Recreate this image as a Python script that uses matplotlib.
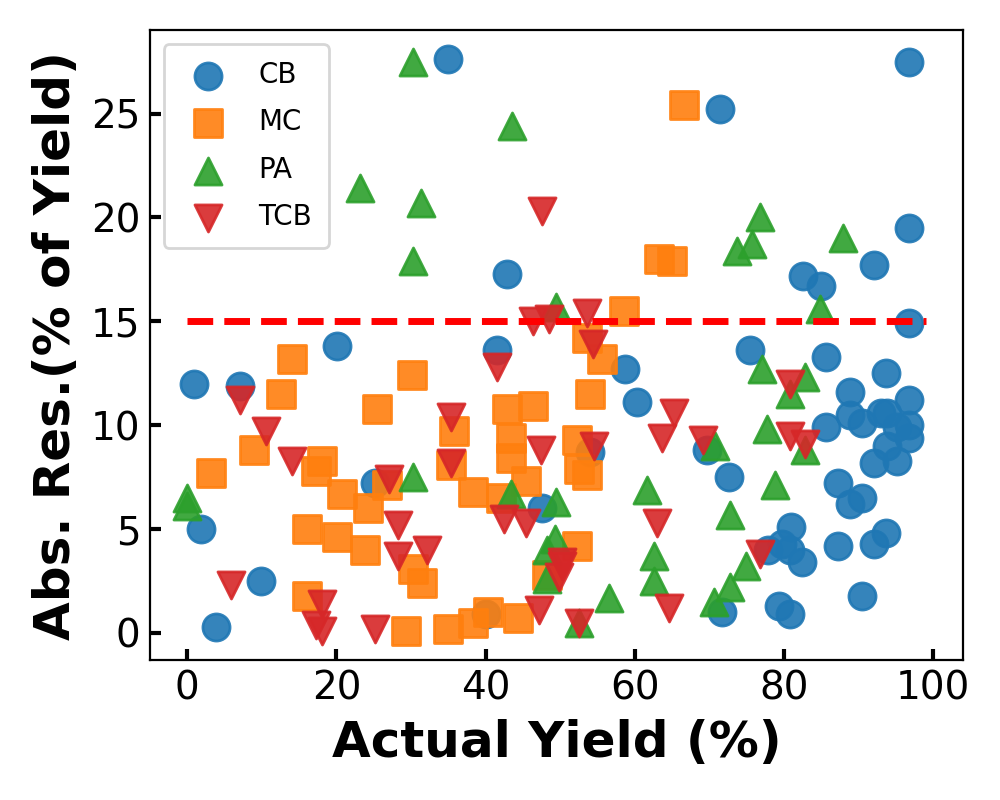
import numpy as np
import matplotlib
matplotlib.use('Agg')
import matplotlib.pyplot as plt

# values
cb_x = [0.9, 1.9, 3.9, 7.0, 9.9, 20.1, 25.1, 35.0, 42.8, 41.5, 47.5, 40.1,
        58.7, 60.3, 54.0, 75.4, 85.6, 93.7, 88.9, 96.8, 88.9, 90.5, 93.0, 93.8,
        95.2, 96.8, 96.8, 93.8, 92.1, 95.2, 85.6, 69.7, 72.6, 87.2, 90.5, 88.9,
        80.9, 77.9, 79.7, 80.8, 82.4, 87.2, 92.1, 93.7, 90.5, 79.3, 80.8, 71.7,
        71.4, 96.8, 96.8, 92.1, 82.6, 85.0, 96.8]
cb_y = [12.0, 5.0, 0.3, 11.9, 2.5, 13.8, 7.2, 27.6, 17.3, 13.6, 6.0, 0.9,
        12.7, 11.1, 8.7, 13.6, 13.3, 12.5, 11.6, 11.2, 10.5, 10.1, 10.6, 10.6,
        9.9, 10.0, 9.4, 9.0, 8.2, 8.3, 9.9, 8.8, 7.5, 7.2, 6.5, 6.2,
        5.1, 4.0, 4.3, 4.0, 3.4, 4.2, 4.3, 4.8, 1.8, 1.3, 0.9, 1.0,
        25.2, 27.5, 19.5, 17.7, 17.2, 16.7, 14.9]

mc_x = [14.1, 12.6, 3.2, 9.0, 18.1, 17.3, 20.7, 24.2, 25.4, 30.1, 26.8, 16.1,
        20.1, 23.8, 16.1, 30.2, 31.5, 29.3, 35.7, 35.4, 38.3, 34.9, 38.3, 40.3,
        42.8, 46.4, 43.4, 43.4, 45.4, 42.1, 44.4, 53.6, 55.6, 54.0, 52.3, 52.5,
        53.6, 52.3, 48.2, 66.6, 63.2, 65.0, 58.5]
mc_y = [13.2, 11.5, 7.7, 8.8, 8.3, 7.8, 6.7, 6.0, 10.8, 12.4, 7.1, 5.0,
        4.6, 4.0, 1.8, 3.1, 2.4, 0.1, 9.7, 8.1, 6.8, 0.2, 0.5, 1.0,
        10.8, 10.9, 9.4, 8.4, 7.3, 6.5, 0.7, 14.2, 13.2, 11.5, 9.3, 7.9,
        7.6, 4.2, 2.8, 25.4, 18.0, 17.9, 15.5]

pa_x = [30.2, 43.5, 23.2, 31.4, 30.2, 49.4, 0.0, 0.0, 30.2, 43.4, 49.4, 49.3,
        48.2, 48.2, 52.5, 56.5, 61.6, 62.6, 62.6, 72.8, 74.9, 72.8, 70.6, 78.8,
        77.7, 70.7, 77.0, 80.8, 82.8, 82.8, 76.8, 73.7, 75.7, 87.9, 84.8]
pa_y = [27.5, 24.4, 21.4, 20.7, 17.9, 15.7, 6.5, 6.1, 7.5, 6.7, 6.3, 4.5,
        4.0, 2.6, 0.5, 1.7, 6.9, 3.7, 2.5, 5.7, 3.2, 2.2, 1.5, 7.1,
        9.8, 9.0, 12.7, 11.5, 12.3, 8.8, 20.0, 18.4, 18.7, 19.0, 15.6]

tcb_x = [47.5, 46.4, 48.5, 53.6, 54.4, 7.0, 10.6, 14.1, 5.9, 18.1, 17.2, 18.1,
         25.2, 27.0, 28.2, 28.2, 32.2, 35.3, 35.3, 41.5, 47.4, 42.4, 45.4, 47.1,
         54.5, 50.2, 49.9, 52.5, 65.2, 63.6, 63.0, 64.6, 69.1, 76.8, 80.8, 80.8,
         82.8, 50.3]
tcb_y = [20.3, 15.0, 15.1, 15.4, 13.9, 11.2, 9.7, 8.3, 2.3, 1.4, 0.4, 0.1,
         0.2, 7.4, 5.2, 3.7, 4.0, 10.4, 8.2, 12.8, 8.8, 5.5, 5.3, 1.1,
         9.0, 3.2, 2.7, 0.5, 10.6, 9.4, 5.3, 1.2, 9.3, 3.8, 12.0, 9.5,
         9.1, 3.4]

threshold = 15

fig, ax = plt.subplots(figsize=(5, 4), dpi=200)
ax.scatter(cb_x, cb_y, marker='o', s=95, color='#1f77b4', alpha=0.9, label='CB')
ax.scatter(mc_x, mc_y, marker='s', s=95, color='#ff7f0e', alpha=0.9, label='MC')
ax.scatter(pa_x, pa_y, marker='^', s=95, color='#2ca02c', alpha=0.9, label='PA')
ax.scatter(tcb_x, tcb_y, marker='v', s=95, color='#d62728', alpha=0.9, label='TCB')
ax.plot([0, 99], [threshold, threshold], 'r--', lw=2.5)

ax.set_xlim(-5, 104)
ax.set_ylim(-1.3, 29)
ax.set_xticks([0, 20, 40, 60, 80, 100])
ax.set_yticks([0, 5, 10, 15, 20, 25])
ax.tick_params(direction='in', labelsize=14, width=1.5, length=4)
ax.set_xlabel('Actual Yield (%)', fontsize=18, fontweight='bold')
ax.set_ylabel('Abs. Res.(% of Yield)', fontsize=18, fontweight='bold')
ax.legend(loc='upper left', fontsize=10, borderpad=0.6, labelspacing=0.7)

plt.subplots_adjust(left=0.15, right=0.963, top=0.962, bottom=0.175)
plt.savefig('out.png', dpi=200)
